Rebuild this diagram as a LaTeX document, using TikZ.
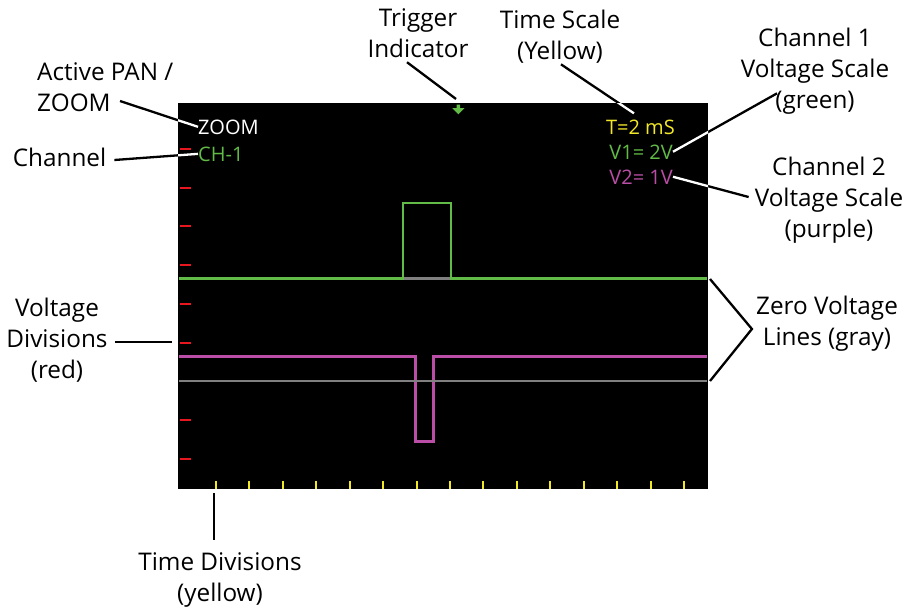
\documentclass[tikz,border=0pt]{standalone}
\usepackage{fontspec}
\setmainfont{Open Sans}
\usetikzlibrary{calc}

\definecolor{scrgreen}{RGB}{98,187,70}
\definecolor{scrpurple}{RGB}{186,78,166}
\definecolor{scrgray}{RGB}{128,128,128}
\definecolor{scrred}{RGB}{232,22,30}
\definecolor{scryellow}{RGB}{242,232,40}

\tikzset{
  label/.style={font=\fontsize{24.3}{31}\selectfont, align=center, inner sep=0pt, text=black},
  scrtext/.style={font=\fontsize{20}{26}\selectfont, inner sep=0pt},
  trace/.style={line width=2.6pt},
  divtick/.style={line width=2pt},
  callout/.style={line width=2.3pt},
}

% all callout connectors, drawn in the colour given
\newcommand\drawcallouts[1]{%
  \draw[callout,#1] (pan-tail) -- (zoomtxt.west);
  \draw[callout,#1] (chan-tail) -- (chtxt.west);
  \draw[callout,#1] (trig-tail) -- (trigmark);
  \draw[callout,#1] (ts-tail) -- (ts-head);
  \draw[callout,#1] (ch1-tail) -- (v1txt.east);
  \draw[callout,#1] (ch2-tail) -- (v2txt.east);
  \draw[callout,#1] (vdiv-tail) -- (vdiv-end);
  \draw[callout,#1] (zero-top) -- (zero-apex) -- (zero-bot);
  \draw[callout,#1] (tdiv-top) -- (tdiv-tail);
}

\begin{document}
\begin{tikzpicture}[x=1pt,y=-1pt]
\useasboundingbox (0,0) rectangle (917,610);

% scope screen
\node[fill=black, minimum width=530pt, minimum height=386pt, inner sep=0pt,
      outer sep=0pt, anchor=north west] (screen) at (178,103) {};

% voltage divisions (red)
\foreach \k in {0,1,2,3,4,5,7,8}
  \draw[divtick, scrred] (180,149+38.7*\k) -- (191,149+38.7*\k);

% time divisions (yellow)
\foreach \k in {0,...,14}
  \draw[divtick, scryellow] (216+33.43*\k,481) -- (216+33.43*\k,489);

% zero voltage line of channel 1, then channel 1 trace
\draw[trace, scrgray] (179,278.5) -- (707,278.5);
\draw[trace, scrgreen] (179,278.5) -- (403,278.5) -- (403,203) -- (451,203)
  -- (451,278.5) -- (707,278.5);

% channel 2 trace, then its zero voltage line
\draw[trace, scrpurple] (179,356.5) -- (415.5,356.5) -- (415.5,441.5)
  -- (433.5,441.5) -- (433.5,356.5) -- (707,356.5);
\draw[trace, scrgray] (179,381) -- (707,381);

% trigger indicator
\fill[scrgreen] (456.5,104.5) -- (460.2,104.5) -- (460.2,108.2) -- (464.3,108.2)
  -- (458.35,114.3) -- (452.4,108.2) -- (456.5,108.2) -- cycle;
\coordinate (trigmark) at (456,99);

% on-screen readouts
\node[scrtext, text=white, anchor=base west] (zoomtxt) at (198,134) {ZOOM};
\node[scrtext, text=scrgreen, anchor=base west] (chtxt) at (198,161) {CH-1};
\node[scrtext, text=scryellow, anchor=base east] (tstxt) at (675,134) {T=2 mS};
\node[scrtext, text=scrgreen, anchor=base east] (v1txt) at (673,159) {V1= 2V};
\node[scrtext, text=scrpurple, anchor=base east] (v2txt) at (673,184) {V2= 1V};

% labels
\node[label, align=left, anchor=west] (pan) at (37,87.5) {Active PAN /\\ZOOM};
\node[label] (chan) at (59.5,157.5) {Channel};
\node[label] (trig) at (418,33.5) {Trigger\\Indicator};
\node[label] (ts) at (560,36.5) {Time Scale\\(Yellow)};
\node[label] (ch1) at (815,71) {Channel 1\\Voltage Scale\\(green)};
\node[label] (ch2) at (829,200) {Channel 2\\Voltage Scale\\(purple)};
\node[label] (vdiv) at (57,340) {Voltage\\Divisions\\(red)};
\node[label] (zero) at (827,324) {Zero Voltage\\Lines (gray)};
\node[label] (tdiv) at (220,579.5) {Time Divisions\\(yellow)};

% connector ends
\coordinate (pan-tail) at (120,101);
\coordinate (chan-tail) at ($(chan.east)+(8,2.5)$);
\coordinate (trig-tail) at ($(trig.south)+(-11,4)$);
\coordinate (ts-tail) at ($(ts.south)+(1,1)$);
\coordinate (ts-head) at ($(tstxt.north)+(-6.5,-6)$);
\coordinate (ch1-tail) at ($(ch1.south)+(-38,-21)$);
\coordinate (ch2-tail) at ($(ch2.west)+(-6,-3)$);
\coordinate (vdiv-tail) at ($(vdiv.east)+(7,2)$);
\coordinate (vdiv-end) at (172,342);
\coordinate (zero-apex) at ($(zero.west)+(-4,5)$);
\coordinate (zero-top) at (710,279);
\coordinate (zero-bot) at (710,381);
\coordinate (tdiv-top) at (214,493);
\coordinate (tdiv-tail) at ($(tdiv.north)+(-6,-12)$);

% callouts: black outside the screen, white on it
\drawcallouts{black}
\begin{scope}
  \clip (screen.north west) rectangle (screen.south east);
  \drawcallouts{white}
\end{scope}
\end{tikzpicture}
\end{document}
